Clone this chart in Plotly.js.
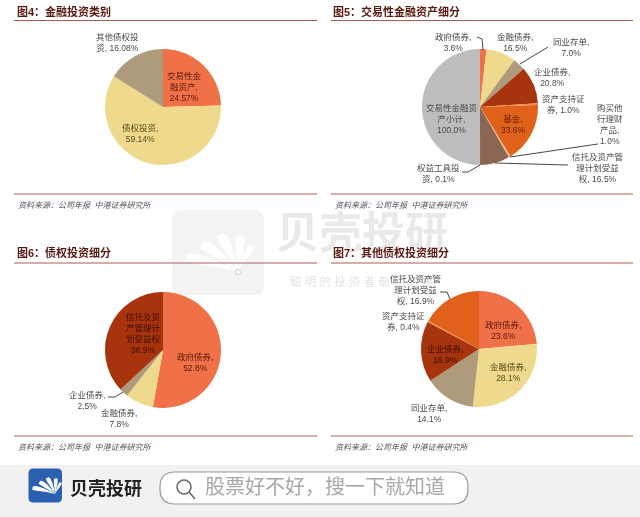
<!DOCTYPE html>
<html><head><meta charset="utf-8">
<script src="https://cdn.plot.ly/plotly-3.0.1.min.js"></script>
<style>html,body{margin:0;padding:0;background:#fff;overflow:hidden}#c{width:640px;height:517px;filter:blur(0.35px)}</style>
</head><body><div id="c"></div>
<script>
// ---------- data ----------
const fig4Cats = ['交易性金融资产','债权投资','其他债权投资'];
const fig4Vals = [24.57,59.14,16.08];
const fig5Cats = ['政府债券','金融债券','同业存单','企业债券','资产支持证券','基金','购买他行理财产品','信托及资产管理计划受益权','权益工具投资','交易性金融资产小计'];
const fig5Vals = [3.6,16.5,7.0,20.8,1.0,33.6,1.0,16.5,0.1,100.0];
const fig6Cats = ['政府债券','金融债券','企业债券','信托及资产管理计划受益权'];
const fig6Vals = [52.8,7.8,2.5,36.9];
const fig7Cats = ['政府债券','金融债券','同业存单','企业债券','资产支持证券','信托及资产管理计划受益权'];
const fig7Vals = [23.6,28.1,14.1,16.9,0.4,16.9];

const titles = ['图4：金融投资类别','图5：交易性金融资产细分','图6：债权投资细分','图7：其他债权投资细分'];
const sourceText = '资料来源：公司年报  中港证券研究所';

// ---------- styles ----------
const RED='#f07048',SAND='#efd98c',TAUPE='#ae9b7c',RUST='#a8340e',AMBER='#f08a3c',ORANGE='#e0621a',PEACH='#f2b98a',BROWN='#8a6552',DARK='#7a3a20',GREY='#bdbdbd';
const fig4Cols=[RED,SAND,TAUPE];
const fig5Cols=[RED,SAND,TAUPE,RUST,AMBER,ORANGE,PEACH,BROWN,DARK,GREY];
const fig6Cols=[RED,SAND,TAUPE,RUST];
const fig7Cols=[RED,SAND,TAUPE,RUST,AMBER,ORANGE];

const W=640,H=517,FONT='"Liberation Sans","Noto Sans CJK SC",sans-serif';
const px=x=>x/W, py=y=>1-y/H;
function pie(cats,vals,cols,cx,cy,r){
  return {type:'pie',labels:cats,values:vals,sort:false,direction:'clockwise',rotation:0,
    textinfo:'none',hoverinfo:'skip',showlegend:false,
    marker:{colors:cols,line:{width:0}},
    domain:{x:[px(cx-r),px(cx+r)],y:[py(cy+r),py(cy-r)]}};
}
const traces=[
  pie(fig4Cats,fig4Vals,fig4Cols,163,107,58),
  pie(fig5Cats,fig5Vals,fig5Cols,480,107,58),
  pie(fig6Cats,fig6Vals,fig6Cols,163,350,58),
  pie(fig7Cats,fig7Vals,fig7Cols,479,349,58)
];

const ann=[];
function T(text,x,y,o={}){
  ann.push({text,x:px(x),y:py(y),xref:'paper',yref:'paper',showarrow:false,
    xanchor:o.anchor||'center',yanchor:'middle',align:o.align||'center',
    font:{family:FONT,size:o.size||8.5,color:o.color||'#4a4a4a',weight:o.weight||400,style:o.style||'normal'}});
}
const INR='#5c1a0a',INS='#5a4a1a',IND='#3a0c04';
// watermark text (first, so everything else sits on top)
T('贝壳投研',362,233,{size:43,weight:700,color:'#e9e9e9'});
T('聪 明 的 投 资 者 都 在 这 里',362,281,{size:11.5,color:'#e4e4e4'});
// figure 4 labels
T('其他债权投<br>资, 16.08%',117,42);
T('交易性金<br>融资产,<br>24.57%',184,87,{color:INR});
T('债权投资,<br>59.14%',140,133,{color:INS});
// figure 5 labels
T('政府债券,<br>3.6%',453,42);
T('金融债券,<br>16.5%',515,43);
T('同业存单,<br>7.0%',571,47);
T('企业债券,<br>20.8%',552,77);
T('资产支持证<br>券, 1.0%',563,104);
T('购买他<br>行理财<br>产品,<br>1.0%',610,125);
T('信托及资产管<br>理计划受益<br>权, 16.5%',597,168);
T('基金,<br>33.6%',513,124,{color:INR});
T('交易性金融资<br>产小计,<br>100.0%',452,119);
T('权益工具投<br>资, 0.1%',438,174);
// figure 6 labels
T('信托及资<br>产管理计<br>划受益权<br>36.9%',143,333,{color:IND});
T('政府债券,<br>52.8%',195,362,{color:INR});
T('企业债券,<br>2.5%',87,400);
T('金融债券,<br>7.8%',119,418);
// figure 7 labels
T('信托及资产管<br>理计划受益<br>权, 16.9%',415,290);
T('资产支持证<br>券, 0.4%',403,321);
T('政府债券,<br>23.6%',503,330,{color:INR});
T('金融债券,<br>28.1%',508,372,{color:INS});
T('企业债券,<br>16.9%',445,354,{color:IND});
T('同业存单,<br>14.1%',429,413);
// titles + sources
[[15,11],[331,11],[15,253],[331,253]].forEach((p,i)=>T(titles[i],p[0],p[1],{anchor:'left',size:11,weight:700,color:'#5a1a12'}));
[[16,205],[333,205],[16,447],[333,447]].forEach(p=>T(sourceText,p[0],p[1],{anchor:'left',size:8,style:'italic',color:'#555'}));
// footer text
T('贝壳投研',106,488,{size:18,weight:700,color:'#222'});
T('股票好不好，搜一下就知道',325,487,{size:20,color:'#a8a8a8'});

const shapes=[];
function rect(x0,y0,x1,y1,fill,line,lw,rad){
  if(rad){
    const p=`M${px(x0+rad)},${py(y0)} L${px(x1-rad)},${py(y0)} Q${px(x1)},${py(y0)} ${px(x1)},${py(y0+rad)} L${px(x1)},${py(y1-rad)} Q${px(x1)},${py(y1)} ${px(x1-rad)},${py(y1)} L${px(x0+rad)},${py(y1)} Q${px(x0)},${py(y1)} ${px(x0)},${py(y1-rad)} L${px(x0)},${py(y0+rad)} Q${px(x0)},${py(y0)} ${px(x0+rad)},${py(y0)} Z`;
    shapes.push({type:'path',path:p,xref:'paper',yref:'paper',fillcolor:fill,line:{color:line||fill,width:lw||0},layer:'below'});
  } else shapes.push({type:'rect',x0:px(x0),x1:px(x1),y0:py(y0),y1:py(y1),xref:'paper',yref:'paper',fillcolor:fill,line:{width:lw||0,color:line||fill},layer:'below'});
}
function line(pts,color,w,layer){
  const p=pts.map((q,i)=>(i?'L':'M')+px(q[0])+','+py(q[1])).join(' ');
  shapes.push({type:'path',path:p,xref:'paper',yref:'paper',line:{color:color,width:w},layer:layer||'above'});
}
// rounded teardrop petal from the pivot to its tip, bent to one side
function petal(ox,oy,tx,ty,wd,bend,fill){
  const dx=tx-ox,dy=ty-oy,l=Math.hypot(dx,dy),nx=-dy/l,ny=dx/l;
  const P=(f,s)=>[ox+dx*f+nx*s,oy+dy*f+ny*s];
  const c1=P(0.45,bend+wd*0.3),c2=P(1.12,bend*0.3+wd*1.15),c3=P(1.15,bend*0.3-wd*1.05),c4=P(0.45,bend-wd*0.3);
  const f=q=>px(q[0])+','+py(q[1]);
  const p=`M${f([ox,oy])} C${f(c1)} ${f(c2)} ${f([tx,ty])} C${f(c3)} ${f(c4)} ${f([ox,oy])} Z`;
  shapes.push({type:'path',path:p,xref:'paper',yref:'paper',fillcolor:fill,line:{width:0},layer:'below'});
}
function fan(ox,oy,k,fill){
  [[-52,-13,9,5],[-36,-27,9,4],[-18,-37,9,2.5],[2,-36,8,0],[14,-26,6,-2]].forEach(t=>petal(ox,oy,ox+t[0]*k,oy+t[1]*k,t[2]*k,t[3]*k,fill));
}
// watermark
rect(172,210,264,295,'#f3f3f3',null,0,10);
fan(238,272,1,'#ffffff');
shapes.push({type:'circle',xref:'paper',yref:'paper',x0:px(235.5),x1:px(240.5),y0:py(274.5),y1:py(269.5),fillcolor:'#fff',line:{color:'#cfcfcf',width:1},layer:'below'});
// rules
const RULE='#a8604e';
[20.5,194,263,436].forEach(y=>{
  line([[14,y],[317,y]],RULE,1,'below');
  line([[331,y],[633,y]],RULE,1,'below');
});
// leader lines
const LL='#333333';
line([[477,37],[482,39],[483,50]],LL,0.9);
line([[548,47],[520,64]],LL,0.9);
line([[598,144],[510,157]],LL,0.9);
line([[568,165],[495,163]],LL,0.9);
line([[462,172],[468,172],[480,165]],LL,0.9);
line([[108,397],[115,397],[123,392]],LL,0.9);
line([[440,292],[447,292],[450,299]],LL,0.9);
// footer
rect(0,465,640,517,'#f1f1f1');
rect(28.5,468.5,62,502.5,'#2b5fb0',null,0,5);
fan(55,494,0.43,'#ffffff');
rect(160,472,468,504,'#ffffff','#999999',1.2,15);
shapes.push({type:'circle',xref:'paper',yref:'paper',x0:px(177),x1:px(191),y0:py(494),y1:py(480),fillcolor:'rgba(0,0,0,0)',line:{color:'#666',width:1.5},layer:'above'});
line([[189,492],[195,499]],'#666',1.5);

Plotly.newPlot('c',traces,{width:W,height:H,margin:{l:0,r:0,t:0,b:0},paper_bgcolor:'#fff',showlegend:false,annotations:ann,shapes:shapes},{displayModeBar:false,staticPlot:true});
</script></body></html>
